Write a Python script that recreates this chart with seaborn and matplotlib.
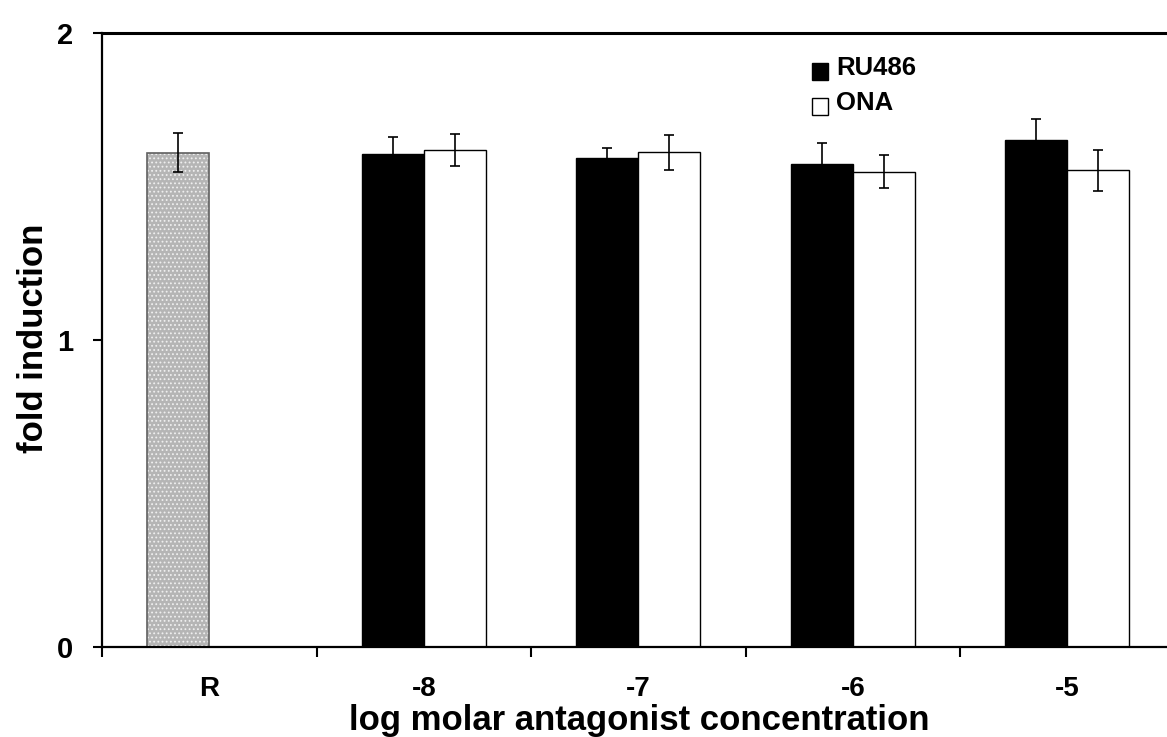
import numpy as np
import pandas as pd
import matplotlib
matplotlib.use("Agg")
import matplotlib.pyplot as plt
import seaborn as sns
from matplotlib.patches import Patch, Rectangle
from matplotlib.container import BarContainer
from matplotlib.legend_handler import HandlerPatch
from matplotlib import font_manager

# ---- data ----
categories = ['R', '-8', '-7', '-6', '-5']
series = ['RU486', 'ONA']
ru486_mean = [1.610, 1.605, 1.592, 1.572, 1.652]
ru486_err = [0.063, 0.057, 0.033, 0.070, 0.068]
ona_mean = [np.nan, 1.620, 1.612, 1.548, 1.553]
ona_err = [np.nan, 0.052, 0.057, 0.054, 0.067]
y_ticks = [0, 1, 2]
x_label = 'log molar antagonist concentration'
y_label = 'fold induction'

rows = []
for c, m, e in zip(categories, ru486_mean, ru486_err):
    rows.append((c, 'RU486', m, e))
for c, m, e in zip(categories, ona_mean, ona_err):
    if not np.isnan(m):
        rows.append((c, 'ONA', m, e))
df = pd.DataFrame(rows, columns=['conc', 'treatment', 'fold', 'err'])
err_lookup = {(r.conc, r.treatment): r.err for r in df.itertuples()}

sns.set_theme(style='white')
plt.rcParams['font.family'] = ['Liberation Sans', 'DejaVu Sans']
plt.rcParams['font.weight'] = 'bold'
plt.rcParams['hatch.linewidth'] = 0.8

names = {f.name for f in font_manager.fontManager.ttflist}
if 'Liberation Sans Narrow' in names:
    label_family = ['Liberation Sans Narrow', 'Liberation Sans']
    label_size = 30
else:
    label_family = ['Liberation Sans', 'DejaVu Sans']
    label_size = 25

W, H = 1167, 737
fig = plt.figure(figsize=(W / 100, H / 100), dpi=100)
ax = fig.add_axes([102 / W, 1 - 647 / H, 1 - 102 / W, (647 - 33) / H])

sns.barplot(data=df, x='conc', y='fold', hue='treatment', order=categories,
            hue_order=series, palette={'RU486': 'black', 'ONA': 'white'},
            width=0.58, gap=0, errorbar=None, edgecolor='black', linewidth=1.0,
            saturation=1, legend=False, ax=ax)

# error bars and reference (R) bar styling
bar_containers = [c for c in ax.containers if isinstance(c, BarContainer)]
bars = [b for cont in bar_containers for b in cont if b is not None]
for bar in bars:
    h = bar.get_height()
    if np.isnan(h):
        continue
    xc = bar.get_x() + bar.get_width() / 2
    idx = int(round(xc))
    s = series[0] if xc < idx else series[1]
    c = categories[idx]
    if c == 'R':
        bar.set_facecolor('#b5b5b5')
        bar.set_edgecolor('#efefef')
        bar.set_hatch('....')
        bar.set_linewidth(0)
        ax.add_patch(Rectangle(bar.get_xy(), bar.get_width(), h, fill=False,
                               edgecolor='#606060', linewidth=1.2, zorder=bar.get_zorder() + 0.1))
    ax.errorbar(xc, h, yerr=err_lookup[(c, s)], fmt='none', ecolor='black',
                elinewidth=1.2, capsize=3.5, capthick=1.2, zorder=5)

ax.set_xlim(-0.5, 4.465)
ax.set_ylim(0, 2)
ax.set_xticks([i - 0.5 for i in range(len(categories))], labels=[''] * len(categories))
ax.set_xticks(range(len(categories)), labels=categories, minor=True)
ax.tick_params(axis='x', which='major', direction='out', length=7.2, width=1.5,
               color='black', bottom=True, labelbottom=False)
ax.tick_params(axis='x', which='minor', length=0, pad=21, labelsize=20,
               labelcolor='black')
ax.set_yticks(y_ticks)
ax.tick_params(axis='y', direction='out', length=6.5, width=1.5, color='black',
               left=True, pad=14.4, labelsize=21, labelcolor='black')

for side in ['left', 'bottom']:
    ax.spines[side].set_color('black')
    ax.spines[side].set_linewidth(1.6)
ax.spines['top'].set_color('black')
ax.spines['top'].set_linewidth(2.2)
ax.spines['right'].set_visible(False)

ax.set_xlabel(x_label, fontsize=label_size, family=label_family, fontweight='bold', color='black')
ax.xaxis.label.set_va('baseline')
ax.xaxis.set_label_coords(0.5047, -(730 - 647) / 614)
ax.set_ylabel(y_label, fontsize=label_size, family=label_family, fontweight='bold', color='black')
ax.yaxis.label.set_va('center')
ax.yaxis.set_label_coords(-(102 - 34) / 1065, 0.503)


def shifted_square(legend, orig_handle, xdescent, ydescent, width, height, fontsize):
    return Rectangle((-xdescent, -ydescent - 4), width, height)


handles = [Patch(facecolor='black', edgecolor='black', linewidth=1.0),
           Patch(facecolor='white', edgecolor='black', linewidth=1.0)]
leg = ax.legend(handles, series, loc='upper left',
                bbox_to_anchor=(812 / W, 1 - 56 / H), bbox_transform=fig.transFigure,
                frameon=False, borderpad=0, borderaxespad=0, handlelength=0.64,
                handleheight=0.64, handletextpad=0.3, labelspacing=0.42,
                prop={'size': 18.5, 'weight': 'bold'},
                handler_map={Patch: HandlerPatch(patch_func=shifted_square)})
for t in leg.get_texts():
    t.set_color('black')

fig.savefig('out.png', dpi=100)
